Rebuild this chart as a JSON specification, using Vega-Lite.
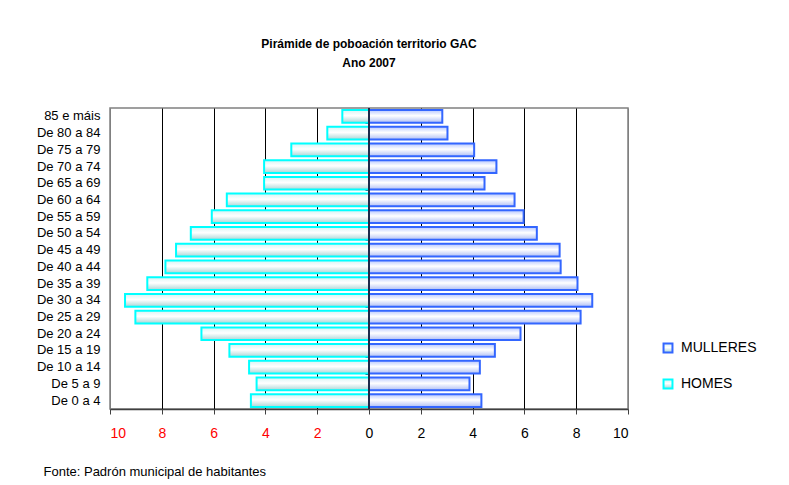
{
  "$schema": "https://vega.github.io/schema/vega-lite/v6.json",
  "width": 518,
  "height": 301,
  "autosize": {"type": "none"},
  "padding": {"left": 110, "top": 108, "right": 161, "bottom": 76},
  "background": "white",
  "title": {
    "text": ["Pirámide de poboación territorio GAC", "Ano 2007"],
    "fontSize": 12,
    "font": "Liberation Sans",
    "fontWeight": "bold",
    "lineHeight": 19,
    "offset": 37,
    "anchor": "middle",
    "color": "black"
  },
  "config": {
    "view": {"stroke": "#808080", "strokeWidth": 1.5},
    "font": "Liberation Sans"
  },
  "resolve": {"axis": {"y": "independent"}},
  "data": {
    "values": [
      {"idade": "85 e máis", "sexo": "HOMES", "valor": -1.03},
      {"idade": "De 80 a 84", "sexo": "HOMES", "valor": -1.61},
      {"idade": "De 75 a 79", "sexo": "HOMES", "valor": -3.0},
      {"idade": "De 70 a 74", "sexo": "HOMES", "valor": -4.05},
      {"idade": "De 65 a 69", "sexo": "HOMES", "valor": -4.05},
      {"idade": "De 60 a 64", "sexo": "HOMES", "valor": -5.49},
      {"idade": "De 55 a 59", "sexo": "HOMES", "valor": -6.07},
      {"idade": "De 50 a 54", "sexo": "HOMES", "valor": -6.88},
      {"idade": "De 45 a 49", "sexo": "HOMES", "valor": -7.45},
      {"idade": "De 40 a 44", "sexo": "HOMES", "valor": -7.86},
      {"idade": "De 35 a 39", "sexo": "HOMES", "valor": -8.56},
      {"idade": "De 30 a 34", "sexo": "HOMES", "valor": -9.42},
      {"idade": "De 25 a 29", "sexo": "HOMES", "valor": -9.02},
      {"idade": "De 20 a 24", "sexo": "HOMES", "valor": -6.47},
      {"idade": "De 15 a 19", "sexo": "HOMES", "valor": -5.39},
      {"idade": "De 10 a 14", "sexo": "HOMES", "valor": -4.63},
      {"idade": "De 5 a 9", "sexo": "HOMES", "valor": -4.34},
      {"idade": "De 0 a 4", "sexo": "HOMES", "valor": -4.56},
      {"idade": "85 e máis", "sexo": "MULLERES", "valor": 2.83},
      {"idade": "De 80 a 84", "sexo": "MULLERES", "valor": 3.03},
      {"idade": "De 75 a 79", "sexo": "MULLERES", "valor": 4.06},
      {"idade": "De 70 a 74", "sexo": "MULLERES", "valor": 4.92},
      {"idade": "De 65 a 69", "sexo": "MULLERES", "valor": 4.46},
      {"idade": "De 60 a 64", "sexo": "MULLERES", "valor": 5.62},
      {"idade": "De 55 a 59", "sexo": "MULLERES", "valor": 5.97},
      {"idade": "De 50 a 54", "sexo": "MULLERES", "valor": 6.48},
      {"idade": "De 45 a 49", "sexo": "MULLERES", "valor": 7.36},
      {"idade": "De 40 a 44", "sexo": "MULLERES", "valor": 7.40},
      {"idade": "De 35 a 39", "sexo": "MULLERES", "valor": 8.05},
      {"idade": "De 30 a 34", "sexo": "MULLERES", "valor": 8.62},
      {"idade": "De 25 a 29", "sexo": "MULLERES", "valor": 8.17},
      {"idade": "De 20 a 24", "sexo": "MULLERES", "valor": 5.85},
      {"idade": "De 15 a 19", "sexo": "MULLERES", "valor": 4.86},
      {"idade": "De 10 a 14", "sexo": "MULLERES", "valor": 4.28},
      {"idade": "De 5 a 9", "sexo": "MULLERES", "valor": 3.88},
      {"idade": "De 0 a 4", "sexo": "MULLERES", "valor": 4.34}
    ]
  },
  "encoding": {
    "y": {
      "field": "idade",
      "type": "nominal",
      "sort": ["85 e máis", "De 80 a 84", "De 75 a 79", "De 70 a 74", "De 65 a 69", "De 60 a 64", "De 55 a 59", "De 50 a 54", "De 45 a 49", "De 40 a 44", "De 35 a 39", "De 30 a 34", "De 25 a 29", "De 20 a 24", "De 15 a 19", "De 10 a 14", "De 5 a 9", "De 0 a 4"],
      "scale": {"paddingInner": 0.24, "paddingOuter": 0.12},
      "axis": {
        "title": null,
        "domain": false,
        "ticks": false,
        "labelPadding": 10,
        "labelFontSize": 13,
        "labelColor": "black",
        "labelFont": "Liberation Sans"
      }
    },
    "x": {
      "field": "valor",
      "type": "quantitative",
      "scale": {"domain": [-10, 10], "nice": false},
      "axis": {
        "values": [-10, -8, -6, -4, -2, 0, 2, 4, 6, 8, 10],
        "labelExpr": "abs(datum.value)",
        "labelFontSize": 14,
        "labelFont": "Liberation Sans",
        "labelColor": {"condition": {"test": "datum.value < 0", "value": "#FF0000"}, "value": "black"},
        "grid": true,
        "gridColor": {"condition": {"test": "abs(datum.value) == 10", "value": "#808080"}, "value": "black"},
        "gridWidth": 1,
        "domainColor": "#404040",
        "domainWidth": 1.5,
        "tickColor": "#404040",
        "tickSize": 5,
        "labelPadding": 12,
        "title": "Fonte: Padrón municipal de habitantes",
        "titleFont": "Liberation Sans",
        "titleFontSize": 13,
        "titleFontWeight": "normal",
        "titleColor": "black",
        "titleAnchor": "start",
        "titleAlign": "left",
        "titleBaseline": "middle",
        "titleX": -67,
        "titleY": 62
      }
    }
  },
  "layer": [
    {
      "transform": [{"filter": "datum.sexo === 'HOMES'"}],
      "mark": {
        "type": "bar",
        "strokeWidth": 2,
        "fill": {
          "gradient": "linear", "x1": 0, "y1": 0, "x2": 0, "y2": 1,
          "stops": [
            {"offset": 0, "color": "#d8f4f4"},
            {"offset": 0.45, "color": "#ffffff"},
            {"offset": 1, "color": "#a9d6d6"}
          ]
        }
      },
      "encoding": {
        "stroke": {
          "field": "sexo",
          "type": "nominal",
          "scale": {"domain": ["MULLERES", "HOMES"], "range": ["#3366FF", "#00FFFF"]},
          "legend": {
            "orient": "none",
            "legendX": 551,
            "legendY": 233,
            "title": null,
            "padding": 0,
            "symbolType": "square",
            "symbolSize": 80,
            "symbolStrokeWidth": 2,
            "symbolFillColor": "#dde5ff",
            "labelFont": "Liberation Sans",
            "labelFontSize": 14,
            "labelColor": "black",
            "labelOffset": 6,
            "rowPadding": 18,
            "encode": {
              "symbols": {
                "update": {
                  "fill": {"signal": "datum.value === 'HOMES' ? '#d6f6f6' : '#dde5ff'"}
                }
              }
            }
          }
        }
      }
    },
    {
      "transform": [{"filter": "datum.sexo === 'MULLERES'"}],
      "mark": {
        "type": "bar",
        "strokeWidth": 2,
        "fill": {
          "gradient": "linear", "x1": 0, "y1": 0, "x2": 0, "y2": 1,
          "stops": [
            {"offset": 0, "color": "#b8c8ff"},
            {"offset": 0.45, "color": "#ffffff"},
            {"offset": 1, "color": "#aebef5"}
          ]
        }
      },
      "encoding": {
        "stroke": {"field": "sexo", "type": "nominal"},
        "y": {
          "field": "idade",
          "type": "nominal",
          "sort": ["85 e máis", "De 80 a 84", "De 75 a 79", "De 70 a 74", "De 65 a 69", "De 60 a 64", "De 55 a 59", "De 50 a 54", "De 45 a 49", "De 40 a 44", "De 35 a 39", "De 30 a 34", "De 25 a 29", "De 20 a 24", "De 15 a 19", "De 10 a 14", "De 5 a 9", "De 0 a 4"],
          "axis": {
            "orient": "left",
            "offset": -259,
            "title": null,
            "labels": false,
            "domain": false,
            "grid": false,
            "ticks": true,
            "tickBand": "extent",
            "tickSize": 4,
            "tickColor": "#1c2c4c",
            "tickWidth": 1
          }
        }
      }
    },
    {
      "mark": {"type": "rule", "color": "#1c2c4c", "strokeWidth": 1.5},
      "encoding": {"x": {"datum": 0}, "y": null}
    }
  ]
}
